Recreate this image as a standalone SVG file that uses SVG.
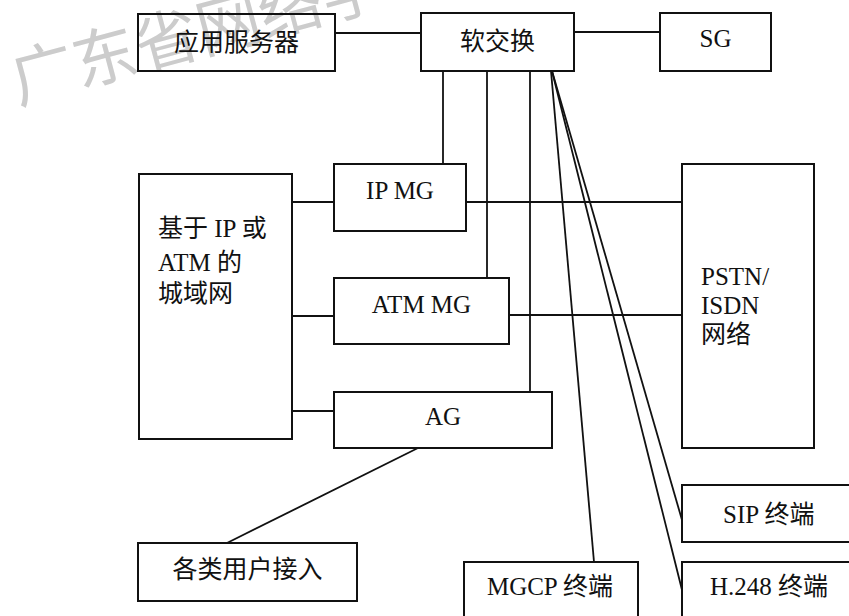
<svg xmlns="http://www.w3.org/2000/svg" width="849" height="616" viewBox="0 0 849 616">
<style>
  .box { fill: none; stroke: #111; stroke-width: 2; }
  .ln { fill: none; stroke: #111; stroke-width: 1.8; }
  .t { font-family: "Liberation Serif", "Times New Roman", "DejaVu Serif", "Noto Sans CJK SC", serif; font-size: 25px; fill: #111; }
  .c { text-anchor: middle; }
  .wm { font-family: "Noto Sans CJK SC", sans-serif; font-size: 64px; fill: #cccccc; }
</style>
<rect x="0" y="0" width="849" height="616" fill="#ffffff"/>
<text class="wm" x="18" y="104" transform="rotate(-15 18 104)">广东省网络学</text>
<g id="connectors">
  <line class="ln" x1="335" y1="33" x2="421" y2="33"/>
  <line class="ln" x1="574" y1="32" x2="660" y2="32"/>
  <line class="ln" x1="443" y1="71" x2="443" y2="164"/>
  <line class="ln" x1="487" y1="71" x2="487" y2="278"/>
  <line class="ln" x1="530" y1="71" x2="530" y2="392"/>
  <line class="ln" x1="551" y1="71" x2="594" y2="562"/>
  <line class="ln" x1="552" y1="71" x2="682" y2="520"/>
  <line class="ln" x1="552" y1="71" x2="682" y2="590"/>
  <line class="ln" x1="292" y1="202" x2="334" y2="202"/>
  <line class="ln" x1="292" y1="316" x2="334" y2="316"/>
  <line class="ln" x1="292" y1="411" x2="334" y2="411"/>
  <line class="ln" x1="466" y1="202" x2="682" y2="202"/>
  <line class="ln" x1="509" y1="315" x2="682" y2="315"/>
  <line class="ln" x1="418" y1="448" x2="227" y2="543"/>
</g>
<g id="app-server">
  <rect class="box" x="138" y="14" width="197" height="57"/>
  <text class="t c" x="236.5" y="51">应用服务器</text>
</g>
<g id="softswitch">
  <rect class="box" x="421" y="13" width="153" height="58"/>
  <text class="t c" x="497.5" y="50">软交换</text>
</g>
<g id="sg">
  <rect class="box" x="660" y="13" width="111" height="58"/>
  <text class="t c" x="715.5" y="47">SG</text>
</g>
<g id="ip-mg">
  <rect class="box" x="334" y="164" width="132" height="67"/>
  <text class="t c" x="400" y="199">IP MG</text>
</g>
<g id="metro-net">
  <rect class="box" x="139" y="174" width="153" height="265"/>
  <text class="t" x="158" y="237">基于 IP 或</text>
  <text class="t" x="158" y="271">ATM 的</text>
  <text class="t" x="158" y="302">城域网</text>
</g>
<g id="atm-mg">
  <rect class="box" x="334" y="278" width="175" height="66"/>
  <text class="t c" x="421.5" y="313">ATM MG</text>
</g>
<g id="ag">
  <rect class="box" x="334" y="392" width="218" height="56"/>
  <text class="t c" x="443" y="425">AG</text>
</g>
<g id="pstn">
  <rect class="box" x="682" y="164" width="132" height="284"/>
  <text class="t" x="701" y="285">PSTN/</text>
  <text class="t" x="701" y="314">ISDN</text>
  <text class="t" x="701" y="343">网络</text>
</g>
<g id="user-access">
  <rect class="box" x="138" y="543" width="219" height="58"/>
  <text class="t c" x="247.5" y="578">各类用户接入</text>
</g>
<g id="sip-terminal">
  <rect class="box" x="682" y="485" width="180" height="57"/>
  <text class="t" x="723" y="523">SIP 终端</text>
</g>
<g id="mgcp-terminal">
  <rect class="box" x="464" y="562" width="174" height="70"/>
  <text class="t c" x="550" y="595">MGCP 终端</text>
</g>
<g id="h248-terminal">
  <rect class="box" x="682" y="562" width="180" height="70"/>
  <text class="t" x="710" y="595">H.248 终端</text>
</g>
</svg>
